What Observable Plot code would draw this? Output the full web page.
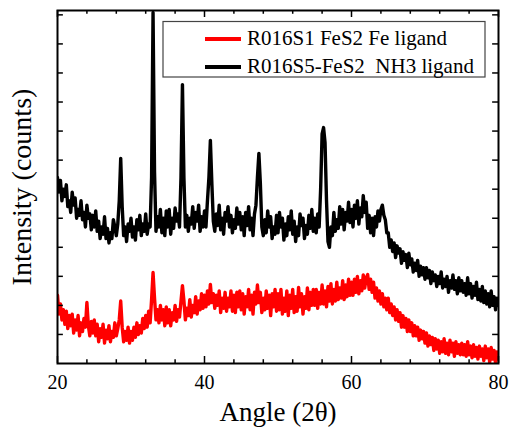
<!DOCTYPE html>
<html>
<head>
<meta charset="utf-8">
<script src="https://cdn.jsdelivr.net/npm/d3@7"></script>
<script src="https://cdn.jsdelivr.net/npm/@observablehq/plot@0.6"></script>
<style>
  html, body { margin: 0; padding: 0; background: #fff; }
  #chart { width: 511px; height: 435px; }
  #chart text { font-family: "Liberation Serif", "Times New Roman", serif; }
</style>
</head>
<body>
<div id="chart"></div>
<script>
// ---- data ----
const angles = d3.range(0, 301).map(k => 20 + k * 0.2); // 2θ scan grid, 0.2° steps

const blackCounts = [
640,590,630,560,600,575,615,540,560,520,590,545,570,500,530,510,560,495,520,470,545,500,515,460,510,
470,525,455,490,430,470,445,505,430,465,415,450,430,495,470,440,480,560,706,540,440,470,420,480,455,
500,435,470,425,495,460,510,440,480,455,515,445,480,470,640,1208,660,455,505,470,530,450,500,440,525,
470,530,445,500,465,535,490,515,470,640,960,640,470,510,455,500,480,540,465,520,490,545,455,505,470,
525,470,560,640,768,620,490,455,515,475,545,460,500,445,520,490,540,470,510,450,495,465,535,480,520,
460,505,440,520,475,540,460,500,440,515,545,640,723,620,470,440,495,450,525,470,505,430,470,445,510,
450,520,470,500,425,480,440,505,460,525,445,490,420,470,440,515,475,500,430,475,445,510,465,530,455,
500,450,515,470,600,790,812,760,560,420,400,470,440,520,455,495,465,540,480,530,460,520,490,555,485,
530,470,545,500,560,480,535,505,578,520,555,465,510,450,500,440,505,470,525,490,530,545,510,495,450,
450,400,425,385,415,365,405,380,395,345,385,355,375,330,380,340,360,315,345,320,355,300,335,305,330,
290,330,295,320,275,315,285,305,265,300,275,315,260,290,265,300,245,285,260,305,255,285,240,295,250,
285,245,275,235,295,240,275,225,265,235,280,220,255,215,265,210,250,205,240,195,250,200,230,185,225,
200];

const redCounts = [
235,170,205,150,185,135,180,120,165,130,170,105,150,115,165,95,140,110,155,125,210,130,95,145,105,
150,95,135,75,120,90,135,70,115,85,130,75,110,90,140,95,120,150,215,125,75,110,80,125,70,
110,80,125,90,140,100,130,105,155,120,165,125,180,140,220,313,225,150,185,140,200,150,185,130,195,
140,185,130,175,150,200,145,185,160,215,268,215,150,190,165,220,160,200,175,230,170,215,185,240,190,
235,195,250,205,272,210,240,190,235,200,250,175,225,190,245,180,225,195,250,180,235,175,245,195,250,
185,240,170,230,195,255,185,235,170,245,205,270,210,245,175,225,185,250,190,235,165,240,195,255,180,
240,185,255,170,225,180,250,165,235,190,255,175,230,180,262,195,240,170,230,190,260,185,245,200,255,
200,255,190,245,205,270,205,250,195,265,215,275,205,255,215,280,220,260,225,285,220,270,230,290,235,
280,235,290,245,300,240,285,250,305,260,295,306,255,290,245,280,225,260,215,250,205,240,195,225,185,
225,175,205,165,195,150,185,145,175,125,165,125,155,110,150,110,140,95,130,95,125,80,115,85,110,
70,105,60,95,65,90,45,85,50,80,35,75,40,85,35,70,30,80,40,70,25,75,35,65,30,
70,30,65,25,75,30,60,20,65,25,55,15,60,25,50,10,60,20,50,5,55,15,45,0,40,
15];

const seriesNames = ["R016S1 FeS2 Fe ligand", "R016S5-FeS2  NH3 ligand"];
const seriesColors = ["#ff0000", "#000000"];

const xMajorTicks = [20, 40, 60, 80];
const xMinorTicks = [24, 28, 32, 36, 44, 48, 52, 56, 64, 68, 72, 76];
const yTicks = [100, 200, 300, 400, 500, 600, 700, 800, 900, 1000, 1100, 1200];

const xDomain = [20, 80];
const yDomain = [0, 1215];

const redData = angles.map((a, i) => ({angle: a, counts: redCounts[i]}));
const blackData = angles.map((a, i) => ({angle: a, counts: blackCounts[i]}));

const FONT = "Liberation Serif";

const plot = Plot.plot({
  width: 511,
  height: 435,
  marginLeft: 57,
  marginRight: 13,
  marginTop: 10,
  marginBottom: 72,
  style: {fontFamily: FONT, background: "white", overflow: "visible"},
  x: {domain: xDomain, axis: null},
  y: {domain: yDomain, axis: null},
  marks: [
    Plot.line(blackData, {x: "angle", y: "counts", stroke: seriesColors[1], strokeWidth: 3.4, clip: true}),
    Plot.line(redData, {x: "angle", y: "counts", stroke: seriesColors[0], strokeWidth: 3.4, clip: true}),
    // inward ticks
    Plot.ruleX(xMajorTicks, {x: d => d, y1: 0, y2: 24, stroke: "black", strokeWidth: 1.5}),
    Plot.ruleX(xMinorTicks, {x: d => d, y1: 0, y2: 13, stroke: "black", strokeWidth: 1.5}),
    Plot.ruleX(xMajorTicks, {x: d => d, y1: yDomain[1], y2: yDomain[1] - 24, stroke: "black", strokeWidth: 1.5}),
    Plot.ruleX(xMinorTicks, {x: d => d, y1: yDomain[1], y2: yDomain[1] - 13, stroke: "black", strokeWidth: 1.5}),
    Plot.ruleY(yTicks, {y: d => d, x1: 20, x2: 20.8, stroke: "black", strokeWidth: 1.5}),
    Plot.ruleY(yTicks, {y: d => d, x1: 80, x2: 79.2, stroke: "black", strokeWidth: 1.5}),
    Plot.frame({stroke: "black", strokeWidth: 2}),
    Plot.axisX(xMajorTicks, {tickSize: 0, tickPadding: 11, fontSize: 20, fontFamily: FONT, fill: "black", label: null}),
    Plot.text(["Angle (2θ)"], {frameAnchor: "bottom", dy: 57, fontSize: 27, fontFamily: FONT, fill: "black", textAnchor: "middle"}),
    Plot.text(["Intensity (counts)"], {frameAnchor: "left", dx: -35.5, rotate: -90, fontSize: 28, fontFamily: FONT, fill: "black", textAnchor: "middle"})
  ]
});

// legend drawn into the same svg
const svg = d3.select(plot);
const lg = svg.append("g").attr("font-family", FONT).attr("font-size", 21).attr("text-anchor", "start");
lg.append("rect").attr("x", 163).attr("y", 21.5).attr("width", 322).attr("height", 55.5)
  .attr("fill", "white").attr("stroke", "#444").attr("stroke-width", 1.2);
seriesNames.forEach((name, i) => {
  const cy = 39 + i * 28;
  lg.append("line").attr("x1", 205).attr("x2", 241).attr("y1", cy).attr("y2", cy)
    .attr("stroke", seriesColors[i]).attr("stroke-width", 4);
  lg.append("text").attr("x", 247).attr("y", cy + 6).attr("fill", "black")
    .attr("text-anchor", "start")
    .style("font-family", "'Liberation Serif', 'Times New Roman', serif")
    .style("white-space", "pre").attr("xml:space", "preserve").text(name);
});

document.getElementById("chart").appendChild(plot);
</script>
</body>
</html>
